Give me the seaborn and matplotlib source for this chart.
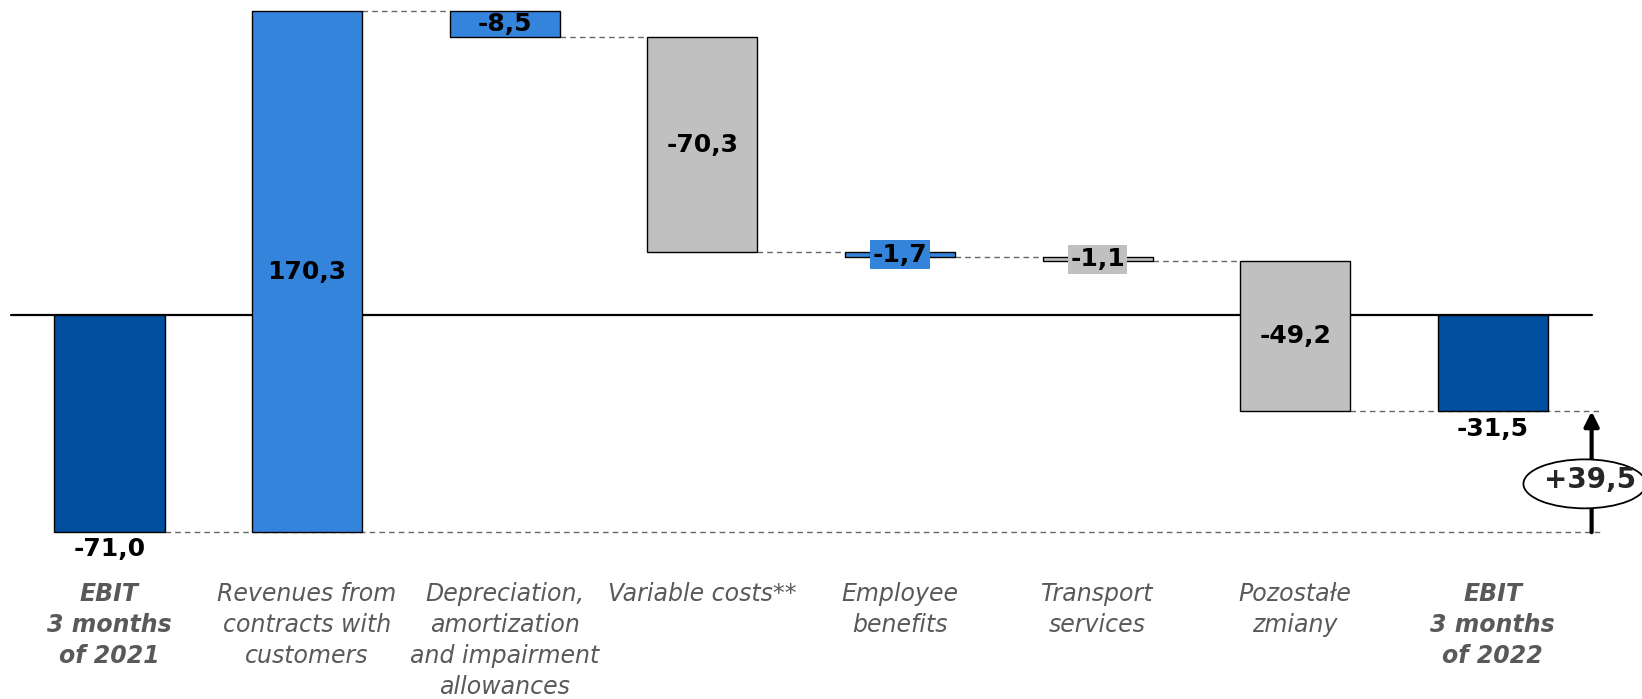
import matplotlib
matplotlib.use("Agg")
import matplotlib.pyplot as plt
from matplotlib.patches import Ellipse
import numpy as np
import pandas as pd
import seaborn as sns

# Waterfall components (mln PLN)
categories = [
    "EBIT\n3 months\nof 2021",
    "Revenues from\ncontracts with\ncustomers",
    "Depreciation,\namortization\nand impairment\nallowances",
    "Variable costs**",
    "Employee\nbenefits",
    "Transport\nservices",
    "Pozostałe\nzmiany",
    "EBIT\n3 months\nof 2022",
]
start_value = -71.0
step_values = [170.3, -8.5, -70.3, -1.7, -1.1, -49.2]
end_value = -31.5
bar_colors = ["#004F9F", "#3584DC", "#3584DC", "#C0C0C0",
              "#3584DC", "#C0C0C0", "#C0C0C0", "#004F9F"]
bold_labels = [True, False, False, False, False, False, False, True]


def fmt(v, sign=False):
    s = f"{v:+.1f}" if sign else f"{v:.1f}"
    return s.replace(".", ",")


# running totals: each step floats from the previous cumulative level
levels = np.concatenate([[start_value], start_value + np.cumsum(step_values)])
bottoms = np.concatenate([[0.0], levels[:-1], [0.0]])
heights = np.concatenate([[start_value], step_values, [end_value]])

df = pd.DataFrame({"category": categories, "height": heights})

sns.set_theme(style="white")
plt.rcParams["font.family"] = ["DejaVu Sans"]

fig = plt.figure(figsize=(16.42, 6.99), dpi=100)
ax = fig.add_axes([0, 0, 1, 1])

BAR_W = 0.557
sns.barplot(data=df, x="category", y="height", hue="category",
            palette=dict(zip(categories, bar_colors)), saturation=1,
            width=BAR_W, edgecolor="black", linewidth=1.0,
            legend=False, ax=ax, zorder=3)

bars = sorted(ax.patches, key=lambda p: p.get_x())
for patch, b, h in zip(bars, bottoms, heights):
    patch.set_y(b)
    patch.set_height(h)

ax.set_xlim(-0.554, 7.755)
ax.set_ylim(-125.5, 102.9)
ax.axis("off")

# zero line
ax.plot([-0.5, 7.5], [0, 0], color="black", lw=1.6, zorder=1)

# dashed connectors between consecutive bars
dash = dict(color="#666666", lw=1.0, ls=(0, (4, 3)), zorder=2)
half = BAR_W / 2
for i in range(1, len(categories) - 2):
    lvl = levels[i]
    ax.plot([i + half, i + 1 - half], [lvl, lvl], **dash)
ax.plot([0 + half, 7.55], [start_value, start_value], **dash)
ax.plot([6 + half, 7.55], [end_value, end_value], **dash)

# value labels
lab = dict(fontsize=18, fontweight="bold", color="black",
           ha="center", va="center", zorder=5)
ax.text(0, start_value - 5.6, fmt(start_value), **lab)
ax.text(7, end_value - 5.8, fmt(end_value), **lab)
for i, (b, h) in enumerate(zip(bottoms[1:-1], heights[1:-1]), start=1):
    y = b + h / 2
    if abs(h) < 5:
        ax.text(i, y, fmt(h), bbox=dict(boxstyle="square,pad=0.1",
                                         fc=bar_colors[i], ec="none"), **lab)
    else:
        ax.text(i, y, fmt(h), **lab)

# category labels
for i, (cat, bold) in enumerate(zip(categories, bold_labels)):
    ax.text(i, -87.2, cat, ha="center", va="top", fontsize=17,
            fontstyle="italic", fontweight="bold" if bold else "normal",
            color="#595959", linespacing=1.37)

# total change arrow with ellipse badge
ax.annotate("", xy=(7.5, end_value), xytext=(7.5, start_value),
            arrowprops=dict(arrowstyle="-|>", lw=3, color="black",
                            mutation_scale=22, shrinkA=0, shrinkB=0),
            zorder=6)
ax.add_patch(Ellipse((7.465, -55.2), width=0.62, height=16.0,
                     fc="white", ec="black", lw=1.3, zorder=7))
ax.text(7.49, -53.8, fmt(end_value - start_value, sign=True), fontsize=20,
        fontweight="bold", ha="center", va="center", zorder=8)

fig.savefig("out.png", dpi=100)
